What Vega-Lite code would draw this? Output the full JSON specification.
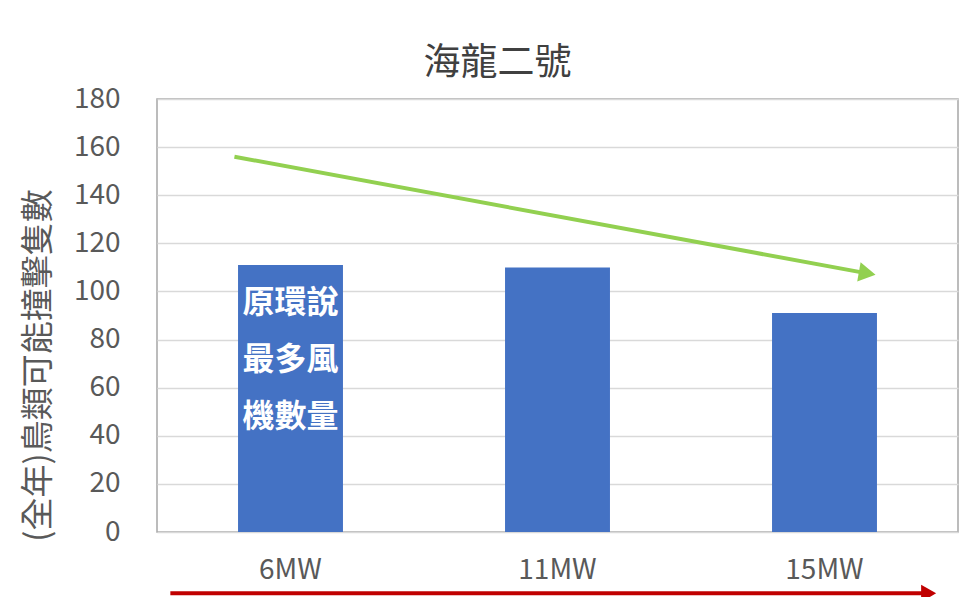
{
  "$schema": "https://vega.github.io/schema/vega-lite/v6.json",
  "width": 801,
  "height": 433,
  "autosize": {"type": "none"},
  "padding": {"left": 157, "top": 99, "right": 21, "bottom": 65},
  "background": "white",
  "config": {
    "view": {"stroke": "#a6a6a6", "strokeWidth": 1.5},
    "font": "Noto Sans CJK TC"
  },
  "title": {
    "text": "海龍二號",
    "fontSize": 37,
    "fontWeight": "normal",
    "color": "#404040",
    "anchor": "middle",
    "dx": -60,
    "offset": 2,
    "font": "Noto Sans CJK TC"
  },
  "datasets": {
    "bars": [
      {"mw": "6MW", "count": 111, "note": "原環說\n最多風\n機數量", "noteY": 95},
      {"mw": "11MW", "count": 110, "note": "", "noteY": 0},
      {"mw": "15MW", "count": 91, "note": "", "noteY": 0}
    ],
    "green": [
      {"px": 0.29, "py": 156, "end": false},
      {"px": 2.66, "py": 107.5, "end": true}
    ],
    "red": [
      {"px": 0.05, "py": -25.5, "end": false},
      {"px": 2.89, "py": -25.5, "end": true}
    ]
  },
  "layer": [
    {
      "data": {"name": "bars"},
      "encoding": {
        "x": {
          "field": "mw",
          "type": "nominal",
          "sort": ["6MW", "11MW", "15MW"],
          "scale": {"paddingInner": 0.607, "paddingOuter": 0.3035},
          "axis": {
            "title": null,
            "labelAngle": 0,
            "labelFontSize": 28,
            "labelColor": "#595959",
            "labelPadding": 24,
            "ticks": false,
            "domain": false
          }
        }
      },
      "layer": [
        {
          "mark": {"type": "bar", "color": "#4472c4"},
          "encoding": {
            "y": {
              "field": "count",
              "type": "quantitative",
              "scale": {"domain": [0, 180], "nice": false},
              "axis": {
                "values": [0, 20, 40, 60, 80, 100, 120, 140, 160, 180],
                "title": "(全年)鳥類可能撞擊隻數",
                "titleFontSize": 33,
                "titleFontWeight": "normal",
                "titleColor": "#595959",
                "titleY": 266,
                "titleX": -102,
                "labelFontSize": 28,
                "labelColor": "#595959",
                "labelPadding": 37,
                "ticks": false,
                "domain": false,
                "gridColor": "#d9d9d9",
                "gridWidth": 1.5
              }
            }
          }
        },
        {
          "mark": {
            "type": "text",
            "color": "white",
            "fontSize": 32,
            "fontWeight": "bold",
            "lineBreak": "\n",
            "lineHeight": 57,
            "baseline": "middle",
            "align": "center"
          },
          "encoding": {
            "y": {"field": "noteY", "type": "quantitative"},
            "text": {"field": "note"}
          }
        }
      ]
    },
    {
      "data": {"name": "green"},
      "layer": [
        {
          "mark": {"type": "line", "color": "#92d050", "strokeWidth": 4, "clip": false},
          "encoding": {
            "x": {"field": "px", "type": "quantitative", "scale": {"domain": [0, 3], "nice": false}, "axis": null},
            "y": {"field": "py", "type": "quantitative"}
          }
        },
        {
          "transform": [{"filter": "datum.end"}],
          "mark": {"type": "point", "shape": "triangle-right", "filled": true, "color": "#92d050", "opacity": 1, "size": 380, "angle": 10, "clip": false},
          "encoding": {
            "x": {"field": "px", "type": "quantitative", "scale": {"domain": [0, 3], "nice": false}, "axis": null},
            "y": {"field": "py", "type": "quantitative"}
          }
        }
      ]
    },
    {
      "data": {"name": "red"},
      "layer": [
        {
          "mark": {"type": "line", "color": "#c00000", "strokeWidth": 4, "clip": false},
          "encoding": {
            "x": {"field": "px", "type": "quantitative", "scale": {"domain": [0, 3], "nice": false}, "axis": null},
            "y": {"field": "py", "type": "quantitative"}
          }
        },
        {
          "transform": [{"filter": "datum.end"}],
          "mark": {"type": "point", "shape": "triangle-right", "filled": true, "color": "#c00000", "opacity": 1, "size": 300, "clip": false},
          "encoding": {
            "x": {"field": "px", "type": "quantitative", "scale": {"domain": [0, 3], "nice": false}, "axis": null},
            "y": {"field": "py", "type": "quantitative"}
          }
        }
      ]
    }
  ],
  "resolve": {"scale": {"x": "independent"}}
}
